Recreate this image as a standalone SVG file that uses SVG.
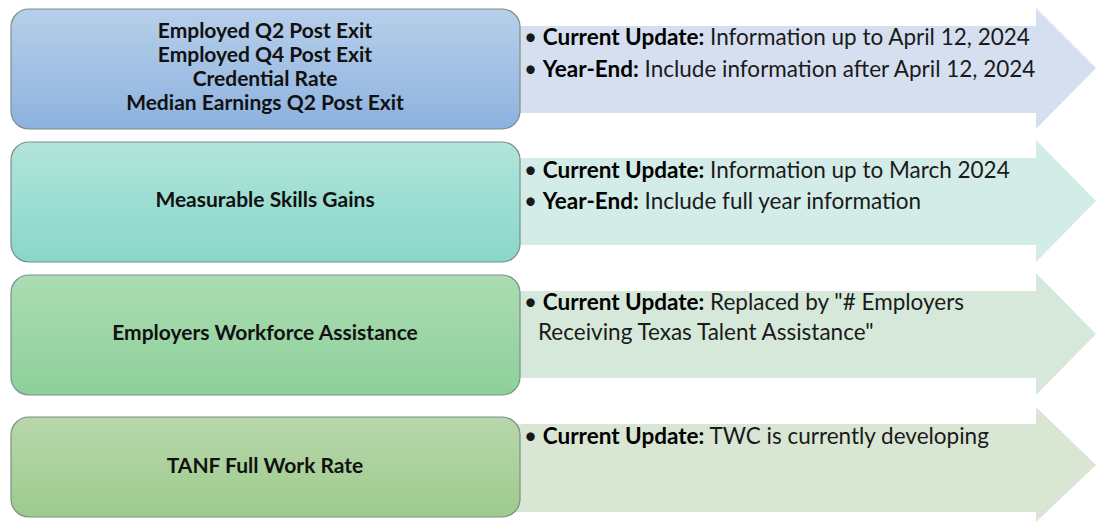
<svg xmlns="http://www.w3.org/2000/svg" width="1096" height="522" viewBox="0 0 1096 522">
  <defs>
    <linearGradient id="gBlue" x1="0" y1="0" x2="0" y2="1">
      <stop offset="0" stop-color="#b7cfea"/>
      <stop offset="1" stop-color="#8db2df"/>
    </linearGradient>
    <linearGradient id="gTeal" x1="0" y1="0" x2="0" y2="1">
      <stop offset="0" stop-color="#b2e4db"/>
      <stop offset="1" stop-color="#88d7c9"/>
    </linearGradient>
    <linearGradient id="gGreen" x1="0" y1="0" x2="0" y2="1">
      <stop offset="0" stop-color="#acdcb3"/>
      <stop offset="1" stop-color="#8dd09a"/>
    </linearGradient>
    <linearGradient id="gOlive" x1="0" y1="0" x2="0" y2="1">
      <stop offset="0" stop-color="#b8d7ab"/>
      <stop offset="1" stop-color="#9dcb8d"/>
    </linearGradient>
  </defs>
  <style>
    .box { stroke: #7b8f86; stroke-width: 1.2; }
    .label { font-family: Lato, "Liberation Sans", sans-serif; font-weight: bold; font-size: 21px; fill: #111; text-anchor: middle; }
    .note { font-family: Lato, "Liberation Sans", sans-serif; font-size: 22.5px; fill: #1a1a1a; }
    .note .b { font-weight: bold; fill: #000; }
  </style>

  <!-- detail arrows behind the metric boxes -->
  <g id="arrows">
    <polygon points="515,26 1036,26 1036,8 1096,68 1036,129 1036,113 515,113" fill="#d6dff0"/>
    <polygon points="515,158 1036,158 1036,140 1096,201 1036,262 1036,245 515,245" fill="#d4ece8"/>
    <polygon points="515,291 1036,291 1036,273 1096,334 1036,395 1036,378 515,378" fill="#d5e8d9"/>
    <polygon points="515,424 1036,424 1036,407 1096,465 1036,522 1036,512 515,512" fill="#d9e6d3"/>
  </g>

  <g id="node-employment">
    <rect class="box" x="11" y="9" width="509" height="120" rx="18" fill="url(#gBlue)"/>
    <text class="label" x="265" y="38">Employed Q2 Post Exit</text>
    <text class="label" x="265" y="62">Employed Q4 Post Exit</text>
    <text class="label" x="265" y="86">Credential Rate</text>
    <text class="label" x="265" y="110">Median Earnings Q2 Post Exit</text>
  </g>
  <g id="note-employment">
    <text class="note" x="524" y="45">• <tspan class="b">Current Update:</tspan> Information up to April 12, 2024</text>
    <text class="note" x="524" y="77">• <tspan class="b">Year-End:</tspan> Include information after April 12, 2024</text>
  </g>

  <g id="node-msg">
    <rect class="box" x="11" y="142" width="509" height="120" rx="18" fill="url(#gTeal)"/>
    <text class="label" x="265" y="207">Measurable Skills Gains</text>
  </g>
  <g id="note-msg">
    <text class="note" x="524" y="178">• <tspan class="b">Current Update:</tspan> Information up to March 2024</text>
    <text class="note" x="524" y="209">• <tspan class="b">Year-End:</tspan> Include full year information</text>
  </g>

  <g id="node-employers">
    <rect class="box" x="11" y="275" width="509" height="120" rx="18" fill="url(#gGreen)"/>
    <text class="label" x="265" y="340">Employers Workforce Assistance</text>
  </g>
  <g id="note-employers">
    <text class="note" x="524" y="310">• <tspan class="b">Current Update:</tspan> Replaced by "# Employers</text>
    <text class="note" x="538" y="340">Receiving Texas Talent Assistance"</text>
  </g>

  <g id="node-tanf">
    <rect class="box" x="11" y="417" width="509" height="100" rx="18" fill="url(#gOlive)"/>
    <text class="label" x="265" y="473">TANF Full Work Rate</text>
  </g>
  <g id="note-tanf">
    <text class="note" x="524" y="444">• <tspan class="b">Current Update:</tspan> TWC is currently developing</text>
  </g>
</svg>
